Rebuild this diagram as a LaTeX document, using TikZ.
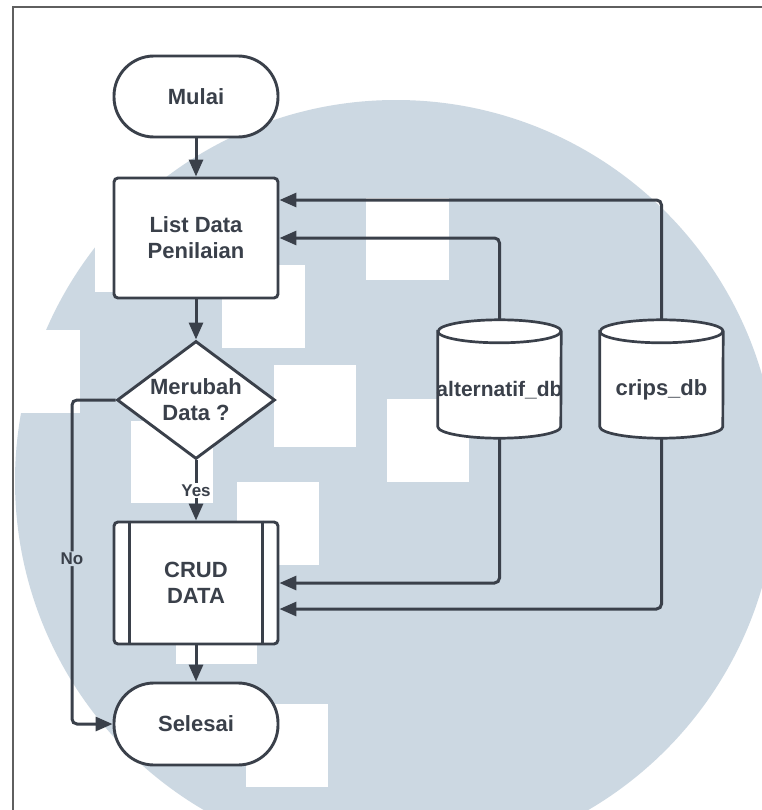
\documentclass[tikz,border=0pt]{standalone}
\usepackage{fontspec}
\setmainfont{Liberation Sans}
\usetikzlibrary{arrows.meta,shapes.geometric,calc}
\definecolor{ink}{RGB}{58,64,74}
\definecolor{wash}{RGB}{204,216,226}
\definecolor{framegray}{RGB}{95,95,95}
\begin{document}
\begin{tikzpicture}[x=1bp,y=1bp,
  shapeline/.style={draw=ink, line width=2.9bp, fill=white, text=ink,
    font=\fontsize{22bp}{26bp}\selectfont\bfseries, align=center},
  terminal/.style={shapeline, rectangle, rounded corners=40bp,
    minimum width=164bp, minimum height=81bp},
  procbox/.style={shapeline, rectangle, rounded corners=4bp,
    minimum width=164bp, minimum height=120bp},
  decision/.style={shapeline, diamond, aspect=1.34, inner sep=0pt,
    minimum width=158bp, minimum height=118bp},
  conn/.style={draw=ink, line width=3bp, rounded corners=5bp,
    -{Triangle[length=17bp,width=14bp]}},
  cylline/.style={draw=ink, line width=2.7bp},
  dbholder/.style={minimum width=123bp, minimum height=118bp, inner sep=0pt},
  dbtext/.style={text=ink, font=\fontsize{21bp}{25bp}\selectfont\bfseries, inner sep=0pt},
  tag/.style={text=ink, font=\fontsize{17bp}{20bp}\selectfont\bfseries, inner sep=1.5bp},
]
\useasboundingbox (0,0) rectangle (762,-810);
\fill[white] (-6,6) rectangle (768,-816);

% background watermark: disc with white blocks
\begin{scope}
\clip (-6,6) rectangle (768,-816);
\fill[wash] (396,-481) circle[radius=381];
\end{scope}
\fill[white] (95,-210) rectangle (177,-292);
\fill[white] (-2,-330) rectangle (80,-413);
\fill[white] (222,-265) rectangle (305,-348);
\fill[white] (366,-198) rectangle (449,-280);
\fill[white] (274,-365) rectangle (356,-447);
\fill[white] (387,-399) rectangle (469,-482);
\fill[white] (131,-421) rectangle (213,-503);
\fill[white] (237,-482) rectangle (319,-565);
\fill[white] (176,-582) rectangle (257,-664);
\fill[white] (246,-704) rectangle (328,-787);

% flowchart nodes
\node[terminal] (start) at (196,-96.5) {Mulai};
\node[procbox] (list) at (196,-238) {List Data\\Penilaian};
\node[decision] (dec) at (196,-400) {Merubah\\Data ?};
\node[procbox, minimum height=122bp] (crud) at (196,-583) {CRUD\\DATA};
\draw[cylline, line width=2.9bp] ([xshift=17bp]crud.north west) -- ([xshift=17bp]crud.south west);
\draw[cylline, line width=2.9bp] ([xshift=-17bp]crud.north east) -- ([xshift=-17bp]crud.south east);
\node[terminal, minimum height=82bp] (stop) at (196,-724) {Selesai};

% databases
\node[dbholder] (alt) at (499.5,-379) {};
\node[dbholder] (crips) at (661.5,-379) {};
\foreach \c in {alt,crips} {
  \draw[cylline, fill=white] ($(\c.north west)+(0,-11.5)$) -- ($(\c.south west)+(0,11.5)$)
    arc[start angle=180, end angle=360, x radius=61.5, y radius=11.5]
    -- ($(\c.north east)+(0,-11.5)$)
    arc[start angle=0, end angle=180, x radius=61.5, y radius=11.5] -- cycle;
  \draw[cylline] ($(\c.north west)+(0,-11.5)$)
    arc[start angle=180, end angle=360, x radius=61.5, y radius=11.5];
}
\node[dbtext] (alttext) at (499.5,-390) {alternatif\_db};
\node[dbtext, font=\fontsize{22bp}{26bp}\selectfont\bfseries] (cripstext) at (661.5,-390) {crips\_db};

% connectors
\coordinate (nobend) at (72,-400);
\draw[conn] (start) -- (list);
\draw[conn] (list) -- (dec);
\draw[conn] (dec) -- node[tag, fill=white] (yes) {Yes} (crud);
\draw[conn] (crud) -- (stop);
\draw[conn] (dec.west) -- (nobend) |- node[tag, fill=wash, pos=0.245] (no) {No} (stop.west);
\draw[conn] (alt.north) |- (list.east);
\draw[conn] (crips.north) |- ([yshift=38bp]list.east);
\draw[conn] (alt.south) |- (crud.east);
\draw[conn] (crips.south) |- ([yshift=-26bp]crud.east);

% page frame (left and top edges only)
\draw[framegray, line width=1.2bp] (13,-7) -- (13,-815);
\draw[framegray, line width=1.2bp] (12.4,-7) -- (770,-7);
\end{tikzpicture}
\end{document}
